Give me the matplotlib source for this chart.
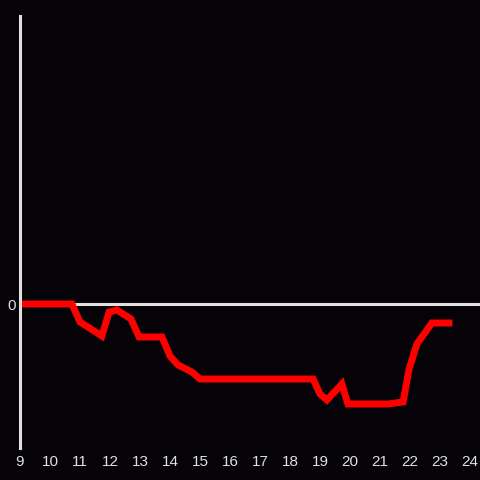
import matplotlib
matplotlib.use('Agg')
import matplotlib.pyplot as plt

plt.rcParams['font.family'] = ['Liberation Sans', 'DejaVu Sans']

# hora do dia e variação (unidades arbitrárias)
horas = [9.0, 10.73, 11.0, 11.73, 11.97, 12.23, 12.7, 12.97, 13.73, 14.0, 14.27,
         14.73, 15.0, 18.77, 19.0, 19.23, 19.73, 19.93, 21.27, 21.77, 21.97,
         22.23, 22.73, 23.3]
valores = [0.0, 0.0, -1.8, -3.2, -0.8, -0.6, -1.5, -3.3, -3.3, -5.2, -6.1,
           -6.8, -7.5, -7.5, -9.0, -9.6, -8.0, -10.0, -10.0, -9.8, -6.5,
           -4.0, -1.9, -1.9]
ticks_x = list(range(9, 25))

fundo = '#050307'
cinza = '#e0e0e0'

fig = plt.figure(figsize=(4.8, 4.8), dpi=100, facecolor=fundo)
ax = fig.add_axes([20/480, 32/480, 460/480, 432/480])
ax.set_facecolor(fundo)

ax.axhline(0, color=cinza, lw=2.2, zorder=1)
ax.plot(horas, valores, color='#ff0000', lw=5, solid_joinstyle='miter', zorder=2)

ax.set_xlim(9, 9 + 460/30)
ax.set_ylim(-14.4, 28.8)
ax.set_xticks(ticks_x)
ax.set_yticks([0])
ax.tick_params(length=0, colors=cinza, labelsize=11, pad=5)
ax.tick_params(axis='y', pad=3)

for s in ['top', 'right', 'bottom']:
    ax.spines[s].set_visible(False)
ax.spines['left'].set_color(cinza)
ax.spines['left'].set_linewidth(2.2)

plt.savefig('out.png', dpi=100, facecolor=fundo)
